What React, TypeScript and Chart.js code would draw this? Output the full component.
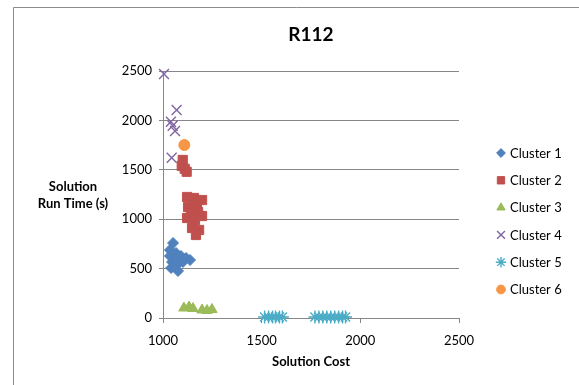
import React, { useEffect, useRef } from "react";
import { Chart, registerables } from "chart.js";
import { drawPoint } from "chart.js/helpers";

Chart.register(...registerables);

const chartTitle = "R112";
const xAxisTitle = "Solution Cost";
const yAxisTitleLines = ["Solution", "Run Time (s)"];
const xTicks = [1000, 1500, 2000, 2500];
const yTicks = [0, 500, 1000, 1500, 2000, 2500];

const seriesNames = ["Cluster 1", "Cluster 2", "Cluster 3", "Cluster 4", "Cluster 5", "Cluster 6"];
const seriesColors = ["#4F81BD", "#C0504D", "#9BBB59", "#8064A2", "#4BACC6", "#F79646"];
const seriesStyles = ["rectRot", "rect", "triangle", "crossRot", "star", "circle"];
const seriesRadius = [5.5, 6.5, 6, 7, 6.5, 5.5];

const cluster1 = [
  { x: 1051, y: 759 }, { x: 1035, y: 688 }, { x: 1035, y: 628 }, { x: 1066, y: 658 },
  { x: 1091, y: 628 }, { x: 1117, y: 607 }, { x: 1137, y: 587 }, { x: 1046, y: 567 },
  { x: 1076, y: 547 }, { x: 1041, y: 506 }, { x: 1076, y: 476 }, { x: 1101, y: 567 },
  { x: 1061, y: 607 },
];
const cluster2 = [
  { x: 1100, y: 1600 }, { x: 1095, y: 1540 }, { x: 1120, y: 1480 }, { x: 1110, y: 1510 },
  { x: 1122, y: 1225 }, { x: 1157, y: 1215 }, { x: 1198, y: 1194 }, { x: 1172, y: 1144 },
  { x: 1127, y: 1123 }, { x: 1142, y: 1063 }, { x: 1178, y: 1073 }, { x: 1198, y: 1032 },
  { x: 1122, y: 1012 }, { x: 1162, y: 992 }, { x: 1147, y: 911 }, { x: 1183, y: 891 },
  { x: 1167, y: 840 },
];
const cluster3 = [
  { x: 1106, y: 101 }, { x: 1132, y: 111 }, { x: 1152, y: 96 },
  { x: 1198, y: 81 }, { x: 1223, y: 76 }, { x: 1248, y: 86 },
];
const cluster4 = [
  { x: 1005, y: 2470 }, { x: 1069, y: 2105 }, { x: 1040, y: 1987 }, { x: 1049, y: 1946 },
  { x: 1061, y: 1893 }, { x: 1044, y: 1622 },
];
const cluster5 = [
  { x: 1515, y: 10 }, { x: 1535, y: 10 }, { x: 1555, y: 10 }, { x: 1570, y: 10 },
  { x: 1590, y: 10 }, { x: 1605, y: 10 },
  { x: 1770, y: 10 }, { x: 1790, y: 10 }, { x: 1810, y: 10 }, { x: 1830, y: 10 },
  { x: 1850, y: 10 }, { x: 1870, y: 10 }, { x: 1890, y: 10 }, { x: 1910, y: 10 },
  { x: 1925, y: 10 },
];
const cluster6 = [{ x: 1108, y: 1751 }];

const seriesData = [cluster1, cluster2, cluster3, cluster4, cluster5, cluster6];

const FONT = "Lato, 'Open Sans', sans-serif";

export default function App() {
  const canvasRef = useRef<HTMLCanvasElement | null>(null);

  useEffect(() => {
    const canvas = canvasRef.current;
    if (!canvas) return;

    const decor = {
      id: "decor",
      beforeDraw(chart: any) {
        const ctx = chart.ctx;
        ctx.save();
        ctx.fillStyle = "#ffffff";
        ctx.fillRect(0, 0, chart.width, chart.height);
        ctx.strokeStyle = "#8c8c8c";
        ctx.lineWidth = 1;
        ctx.beginPath();
        ctx.moveTo(13.5, chart.height);
        ctx.lineTo(13.5, 7.5);
        ctx.lineTo(chart.width, 7.5);
        ctx.stroke();
        ctx.restore();
      },
      afterDraw(chart: any) {
        const ctx = chart.ctx;
        const area = chart.chartArea;
        ctx.save();
        ctx.fillStyle = "#000";
        ctx.textAlign = "center";
        ctx.textBaseline = "middle";
        ctx.font = `bold 19px ${FONT}`;
        ctx.fillText(chartTitle, (area.left + area.right) / 2, 35);
        ctx.font = `bold 13px ${FONT}`;
        ctx.fillText(yAxisTitleLines[0], 73, 187);
        ctx.fillText(yAxisTitleLines[1], 73, 204);
        // legend
        const lx = 501;
        const ly0 = 153;
        const step = 27.3;
        chart.data.datasets.forEach((ds: any, i: number) => {
          const y = ly0 + i * step;
          ctx.fillStyle = ds.backgroundColor;
          ctx.strokeStyle = ds.borderColor;
          ctx.lineWidth = ds.borderWidth;
          drawPoint(ctx, { pointStyle: ds.pointStyle, rotation: 0, radius: ds.pointRadius * 0.8, borderWidth: ds.borderWidth }, lx, y);
          ctx.fillStyle = "#000";
          ctx.textAlign = "left";
          ctx.textBaseline = "middle";
          ctx.font = `13px ${FONT}`;
          ctx.fillText(ds.label, 510, y + 0.5);
        });
        ctx.restore();
      },
    };

    const datasets = seriesNames.map((name, i) => {
      const isLine = seriesStyles[i] === "crossRot" || seriesStyles[i] === "star";
      return {
        label: name,
        data: seriesData[i],
        pointStyle: seriesStyles[i],
        pointRadius: seriesRadius[i],
        pointHoverRadius: seriesRadius[i],
        backgroundColor: seriesColors[i],
        borderColor: seriesColors[i],
        borderWidth: isLine ? 1.4 : 1,
        showLine: false,
        clip: false,
      };
    });

    const chart = new Chart(canvas, {
      type: "scatter",
      data: { datasets: datasets as any },
      plugins: [decor],
      options: {
        responsive: false,
        animation: false,
        layout: { padding: { top: 71, right: 120, left: 0, bottom: 0 } },
        plugins: {
          legend: { display: false },
          title: { display: false },
          tooltip: { enabled: false },
        },
        scales: {
          x: {
            type: "linear",
            min: xTicks[0],
            max: xTicks[xTicks.length - 1],
            afterBuildTicks: (scale: any) => {
              scale.ticks = xTicks.map((v) => ({ value: v }));
            },
            afterFit: (scale: any) => {
              scale.height = 67;
            },
            ticks: {
              color: "#000",
              font: { family: FONT, size: 13 },
              padding: 10,
              maxRotation: 0,
              callback: (v: any) => String(v),
            },
            grid: {
              drawOnChartArea: false,
              drawTicks: true,
              tickLength: 5,
              color: "#878787",
            },
            border: { display: true, color: "#878787" },
            title: {
              display: true,
              text: xAxisTitle,
              color: "#000",
              font: { family: FONT, size: 13, weight: "bold" },
              padding: { top: 0, bottom: 15 },
            },
          },
          y: {
            type: "linear",
            min: yTicks[0],
            max: yTicks[yTicks.length - 1],
            afterBuildTicks: (scale: any) => {
              scale.ticks = yTicks.map((v) => ({ value: v }));
            },
            afterFit: (scale: any) => {
              scale.width = 163;
            },
            ticks: {
              color: "#000",
              font: { family: FONT, size: 13 },
              padding: 7,
              callback: (v: any) => String(v),
            },
            grid: {
              drawOnChartArea: true,
              drawTicks: true,
              tickLength: 4,
              color: "#878787",
            },
            border: { display: true, color: "#878787" },
          },
        },
      } as any,
    });

    return () => {
      chart.destroy();
    };
  }, []);

  return (
    <div style={{ position: "fixed", left: 0, top: 0, width: 579, height: 385 }}>
      <canvas ref={canvasRef} width={579} height={385} style={{ display: "block", width: 579, height: 385 }} />
    </div>
  );
}
